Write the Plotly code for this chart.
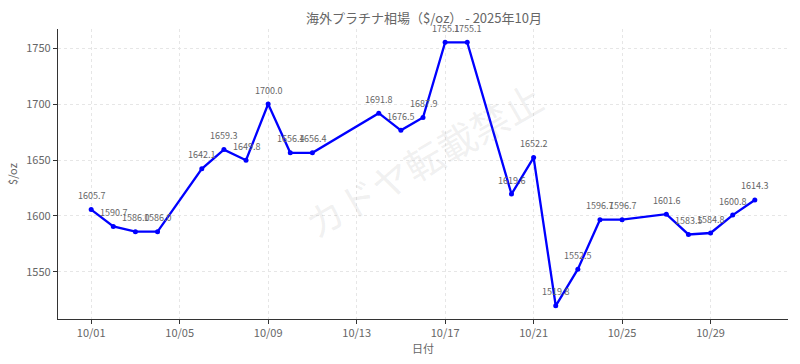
import plotly.graph_objects as go

dates = ["2025-10-01","2025-10-02","2025-10-03","2025-10-04","2025-10-06","2025-10-07",
         "2025-10-08","2025-10-09","2025-10-10","2025-10-11","2025-10-14","2025-10-15",
         "2025-10-16","2025-10-17","2025-10-18","2025-10-20","2025-10-21","2025-10-22",
         "2025-10-23","2025-10-24","2025-10-25","2025-10-27","2025-10-28","2025-10-29",
         "2025-10-30","2025-10-31"]
prices = [1605.7,1590.7,1586.0,1586.0,1642.1,1659.3,1649.8,1700.0,1656.4,1656.4,1691.8,1676.5,
          1687.9,1755.1,1755.1,1619.6,1652.2,1519.8,1552.5,1596.7,1596.7,1601.6,1583.5,1584.8,
          1600.8,1614.3]
tick_dates = ["2025-10-01","2025-10-05","2025-10-09","2025-10-13","2025-10-17","2025-10-21",
              "2025-10-25","2025-10-29"]
tick_labels = ["10/01","10/05","10/09","10/13","10/17","10/21","10/25","10/29"]
yticks = [1550,1600,1650,1700,1750]

FONT = "Noto Sans CJK JP"
GRAY = "#666666"
GRID = "#e6e6e6"

fig = go.Figure()
fig.add_trace(go.Scatter(x=dates, y=prices, mode="lines+markers",
                         line=dict(color="#0000ff", width=2.3),
                         marker=dict(color="#0000ff", size=5),
                         showlegend=False, hoverinfo="skip"))

for d, p in zip(dates, prices):
    fig.add_annotation(x=d, y=p, text=f"{p:.1f}", showarrow=False, yshift=14,
                       xanchor="center", yanchor="middle",
                       font=dict(family=FONT, size=9, color=GRAY))

fig.add_annotation(x=0.5, y=0.55, xref="paper", yref="paper", text="カドヤ転載禁止",
                   showarrow=False, textangle=-30,
                   font=dict(family=FONT, size=38, color="rgba(150,150,150,0.15)"))

fig.update_layout(
    width=800, height=364,
    margin=dict(l=58, r=12, t=29, b=45),
    paper_bgcolor="white", plot_bgcolor="white",
    title=dict(text="海外プラチナ相場（$/oz） - 2025年10月", x=0.53, xanchor="center",
               y=0.95, yanchor="middle",
               font=dict(family=FONT, size=13, color=GRAY)),
    font=dict(family=FONT, color=GRAY),
)
fig.update_xaxes(type="date", range=["2025-09-29 12:00", "2025-11-01 12:00"],
                 tickvals=tick_dates, ticktext=tick_labels,
                 showgrid=True, gridcolor=GRID, griddash="3px,3px", gridwidth=1,
                 showline=True, linecolor="#333333", linewidth=1.2,
                 ticks="outside", ticklen=4, tickcolor="#333333",
                 tickfont=dict(family=FONT, size=11, color=GRAY),
                 title=dict(text="日付", font=dict(family=FONT, size=11, color=GRAY), standoff=4),
                 zeroline=False, mirror=False)
fig.update_yaxes(range=[1508, 1767], tickvals=yticks,
                 showgrid=True, gridcolor=GRID, griddash="3px,3px", gridwidth=1,
                 showline=True, linecolor="#333333", linewidth=1.2,
                 ticks="outside", ticklen=4, tickcolor="#333333",
                 tickfont=dict(family=FONT, size=11, color=GRAY),
                 title=dict(text="$/oz", font=dict(family=FONT, size=11, color=GRAY), standoff=6),
                 zeroline=False, mirror=False)

fig.write_html("out.html")
